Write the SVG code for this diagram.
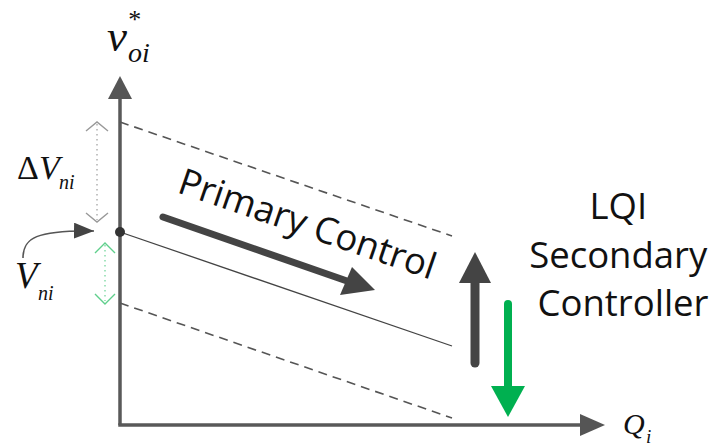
<svg xmlns="http://www.w3.org/2000/svg" width="721" height="448" viewBox="0 0 721 448">
  <style>
    .math { font-family: "Liberation Serif", "DejaVu Serif", serif; font-style: italic; fill: #111; }
    .label { font-family: "Open Sans", "Liberation Sans", sans-serif; fill: #111; }
    .axis { stroke: #595959; stroke-width: 3.5; fill: none; }
    .droop { stroke: #555; stroke-width: 1.6; fill: none; stroke-dasharray: 9 6; }
    .nominal { stroke: #444; stroke-width: 1.3; fill: none; }
    .span-gray { stroke: #aaa; stroke-width: 1.4; fill: none; stroke-dasharray: 1.5 3.5; }
    .span-green { stroke: #7fd9a4; stroke-width: 1.4; fill: none; stroke-dasharray: 1.5 3.5; }
    .chev-gray { stroke: #999; stroke-width: 1.4; fill: none; }
    .chev-green { stroke: #5fcf8c; stroke-width: 1.4; fill: none; }
  </style>
  <defs>
    <marker id="tipSmall" viewBox="0 0 20 16" refX="20" refY="8" markerWidth="20" markerHeight="16" markerUnits="userSpaceOnUse" orient="auto">
      <path d="M0,0 L20,8 L0,16 Z" fill="#444"/>
    </marker>
  </defs>
  <rect width="721" height="448" fill="#fff"/>

  <!-- axes, droop lines and arrows -->
  <g id="connectors">
    <!-- y axis -->
    <line class="axis" x1="120" y1="425" x2="120" y2="97"/>
    <polygon points="120,76 108,99 132,99" fill="#555"/>
    <!-- x axis -->
    <line class="axis" x1="118.25" y1="425" x2="582" y2="425"/>
    <polygon points="605,425 580,414 580,436" fill="#555"/>

    <!-- droop characteristics -->
    <line class="droop" x1="120" y1="122" x2="452" y2="236"/>
    <line class="nominal" x1="120" y1="232" x2="452" y2="346"/>
    <line class="droop" x1="120" y1="303" x2="452" y2="418"/>

    <!-- delta V span (gray, dotted) -->
    <line class="span-gray" x1="97" y1="124" x2="97" y2="220"/>
    <polyline class="chev-gray" points="86,131 97,122 108,131"/>
    <polyline class="chev-gray" points="86,213 97,222 108,213"/>

    <!-- restored span (green, dotted) -->
    <line class="span-green" x1="105" y1="245" x2="105" y2="301"/>
    <polyline class="chev-green" points="95,253 105,243 115,253"/>
    <polyline class="chev-green" points="95,294 105,304 115,294"/>

    <!-- pointer to the nominal voltage -->
    <path d="M23,258 C23,238 36,230 94,231" stroke="#555" stroke-width="1.6" fill="none" marker-end="url(#tipSmall)"/>

    <!-- primary control direction -->
    <line x1="163" y1="217" x2="347" y2="281" stroke="#444" stroke-width="7" stroke-linecap="round"/>
    <polygon points="375,290 340,295 352,267" fill="#444"/>

    <!-- secondary control: up (gray) and down (green) -->
    <line x1="475" y1="363" x2="475" y2="280" stroke="#444" stroke-width="9" stroke-linecap="round"/>
    <polygon points="475,252 459,283 491,283" fill="#444"/>
    <line x1="508" y1="304" x2="508" y2="389" stroke="#00b050" stroke-width="8" stroke-linecap="round"/>
    <polygon points="508,417 491,386 525,386" fill="#00b050"/>
  </g>

  <!-- operating point -->
  <g id="point">
    <circle cx="120" cy="232" r="5" fill="#333"/>
  </g>

  <g id="label-v">
    <text class="math" x="107" y="51" font-size="45">v</text>
    <text class="math" x="128" y="62" font-size="28">oi</text>
    <text class="math" x="127" y="28" font-size="26" font-style="normal">*</text>
  </g>

  <g id="label-q">
    <text class="math" x="623" y="434" font-size="30">Q</text>
    <text class="math" x="646" y="443" font-size="19">i</text>
  </g>

  <g id="label-dv">
    <text class="math" x="17" y="179" font-size="34"><tspan font-style="normal">Δ</tspan>V</text>
    <text class="math" x="59" y="189" font-size="20">ni</text>
  </g>

  <g id="label-vn">
    <text class="math" x="15" y="288" font-size="37">V</text>
    <text class="math" x="38" y="300" font-size="20">ni</text>
  </g>

  <g id="label-primary">
    <text class="label" x="176" y="192" font-size="36.5" transform="rotate(19 176 192)">Primary Control</text>
  </g>

  <g id="label-secondary">
    <text class="label" font-size="36.5" text-anchor="middle">
      <tspan x="623" y="219">LQI</tspan>
      <tspan x="623" y="268">Secondary</tspan>
      <tspan x="623" y="316">Controller</tspan>
    </text>
  </g>
</svg>
